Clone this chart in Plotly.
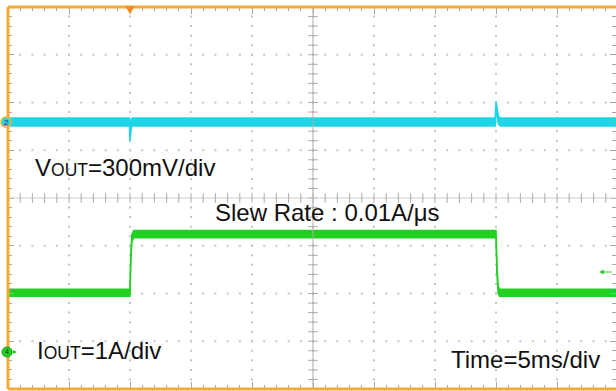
import numpy as np
import plotly.graph_objects as go

# 示波器波形数据（时间单位 ms，5ms/div）
vout_t = [0, 9.95, 10.0, 10.04, 10.1, 10.2, 39.93, 40.0, 40.08, 40.2, 40.35, 50]
vout_mv = [0, 0, -95, -35, -8, 0, 0, 105, 55, 12, 0, 0]      # 相对通道2基准的偏移
vout_ripple_mv = 25                                           # 纹波带半宽

iout_t = [0, 10.0, 10.06, 10.15, 10.3, 40.0, 40.08, 40.18, 40.3, 50]
iout_a = [1.24, 1.24, 1.95, 2.38, 2.47, 2.47, 1.7, 1.3, 1.24, 1.24]
iout_ripple_a = 0.075

# 通道设置
CH2_POS, CH2_SCALE = 5.59, 300.0   # div, mV/div
CH4_POS, CH4_SCALE = 0.775, 1.0    # div, A/div
MS_PER_DIV = 5.0

W, H = 616, 391
L, T, R, B = 8, 7, 0, 2
pw, ph = W - L - R, H - T - B
div_px = 61.0
x_max = pw / div_px * MS_PER_DIV

def px_x(p):
    return (p - L) / pw

def px_y(p):
    return (H - B - p) / ph

ORANGE = '#f7a935'
CYAN = '#1cd6e6'
GREEN = '#22d022'
GRID = '#c4c4c4'
TICK = '#a8a8a8'

fig = go.Figure()

# 网格点
gx, gy = [], []
for k in range(1, 10):
    for j in np.arange(0, 8.01, 0.2):
        gx.append(k * MS_PER_DIV); gy.append(j)
for j in range(1, 8):
    for k in np.arange(0, x_max, 1.0):
        gx.append(k); gy.append(j)
fig.add_trace(go.Scatter(x=gx, y=gy, mode='markers', hoverinfo='skip',
                         marker=dict(symbol='square', size=2, color=GRID)))

# 中心十字刻度
fig.add_trace(go.Scatter(x=[25] * 41, y=np.arange(0, 8.01, 0.2), mode='markers', hoverinfo='skip',
                         marker=dict(symbol='line-ew', size=7, line=dict(width=1, color='#b0aaa4'))))
fig.add_trace(go.Scatter(x=np.arange(0, x_max, 1.0), y=[4] * 50, mode='markers', hoverinfo='skip',
                         marker=dict(symbol='line-ns', size=7, line=dict(width=1, color='#b0aaa4'))))

# 波形（用上下包络填充表示纹波带）
def band(t, vals, ripple, pos, scale, color):
    up = [pos + (v + ripple) / scale for v in vals]
    lo = [pos + (v - ripple) / scale for v in vals]
    fig.add_trace(go.Scatter(x=t, y=lo, mode='lines', line=dict(color=color, width=1.5),
                             hoverinfo='skip'))
    fig.add_trace(go.Scatter(x=t, y=up, mode='lines', line=dict(color=color, width=1.5),
                             fill='tonexty', fillcolor=color, hoverinfo='skip'))

band(vout_t, vout_mv, vout_ripple_mv, CH2_POS, CH2_SCALE, CYAN)
band(iout_t, iout_a, iout_ripple_a, CH4_POS, CH4_SCALE, GREEN)

shapes = [
    dict(type='line', xref='x', yref='paper', x0=25, x1=25, y0=0, y1=1,
         line=dict(color='#b0aaa4', width=1)),
    dict(type='line', xref='paper', yref='y', x0=0, x1=1, y0=4, y1=4,
         line=dict(color='#d0d0d0', width=1)),
    dict(type='line', xref='paper', yref='paper', x0=0, x1=0, y0=0, y1=1,
         line=dict(color=ORANGE, width=3)),
    dict(type='line', xref='paper', yref='paper', x0=0, x1=1, y0=1, y1=1,
         line=dict(color=ORANGE, width=3)),
    dict(type='line', xref='paper', yref='paper', x0=0, x1=1, y0=0, y1=0,
         line=dict(color=ORANGE, width=3)),
    # 触发位置标记
    dict(type='path', xref='x', yref='paper', xsizemode='pixel', ysizemode='pixel',
         xanchor=10.0, yanchor=1, path='M-5,1 L5,1 L0,-7 Z',
         fillcolor='#f58a1f', line=dict(width=0)),
    # 通道2标记
    dict(type='circle', xref='paper', yref='y', xsizemode='pixel', ysizemode='pixel',
         xanchor=px_x(6), yanchor=CH2_POS, x0=-5, x1=5, y0=-5, y1=5,
         fillcolor=CYAN, line=dict(color='#f3b53a', width=1.5)),
    # 通道4标记
    dict(type='circle', xref='paper', yref='y', xsizemode='pixel', ysizemode='pixel',
         xanchor=px_x(7), yanchor=CH4_POS, x0=-5, x1=5, y0=-5, y1=5,
         fillcolor=GREEN, line=dict(color='#1aa01a', width=1)),
]

fig.update_layout(
    width=W, height=H, margin=dict(l=L, t=T, r=R, b=B),
    paper_bgcolor='white', plot_bgcolor='white', showlegend=False,
    font=dict(family='Liberation Sans, Arial, sans-serif', color='#111'),
    xaxis=dict(range=[0, x_max], showgrid=False, zeroline=False, showticklabels=False,
               ticks='inside', ticklen=7, dtick=5, tickcolor=TICK, mirror='ticks',
               minor=dict(ticks='inside', ticklen=4, dtick=1, tickcolor=TICK)),
    yaxis=dict(range=[0, 8], showgrid=False, zeroline=False, showticklabels=False,
               ticks='inside', ticklen=6, dtick=1, tickcolor=TICK, mirror='ticks',
               minor=dict(ticks='inside', ticklen=4, dtick=0.2, tickcolor=TICK)),
    shapes=shapes,
)

small = '<span style="font-size:17.5px">OUT</span>'
ann = [
    ('V' + small + '=300mV/div', 33, 167),
    ('Slew Rate : 0.01A/μs', 213, 213),
    ('I' + small + '=1A/div', 35, 350),
    ('Time=5ms/div', 449, 359),
]
for txt, xp, yp in ann:
    fig.add_annotation(text=txt, xref='paper', yref='paper', x=px_x(xp), y=px_y(yp),
                       xanchor='left', yanchor='middle', showarrow=False,
                       font=dict(size=24, color='#111'))

# 通道编号
fig.add_annotation(text='2', xref='paper', yref='y', x=px_x(6), y=CH2_POS, showarrow=False,
                   font=dict(size=8, color='#335'), xanchor='center', yanchor='middle')
fig.add_annotation(text='4', xref='paper', yref='y', x=px_x(7), y=CH4_POS, showarrow=False,
                   font=dict(size=7, color='#124412'), xanchor='center', yanchor='middle')
fig.add_annotation(xref='paper', yref='y', x=px_x(17), y=CH4_POS, ax=-5, ay=0,
                   text='', showarrow=True, arrowhead=2, arrowsize=0.7, arrowwidth=1.2,
                   arrowcolor=GREEN)

# 触发电平箭头
fig.add_annotation(xref='paper', yref='paper', x=px_x(599), y=px_y(272),
                   ax=14, ay=0, axref='pixel', ayref='pixel',
                   text='', showarrow=True, arrowhead=2, arrowsize=0.8, arrowwidth=1.2,
                   arrowcolor='#33cc33')

# 去掉页面默认边距，让图表贴齐窗口
fig.write_html("out.html", config={'displayModeBar': False},
               post_script="document.body.style.margin='0';")
